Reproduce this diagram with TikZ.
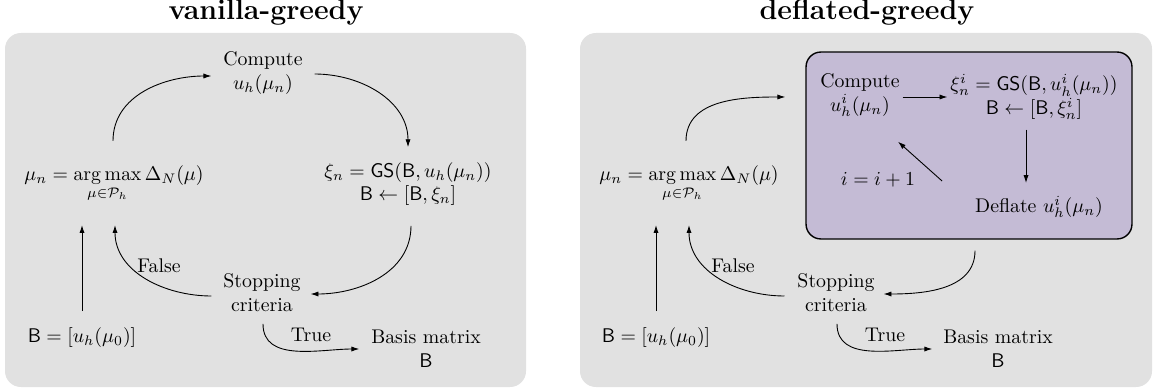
\documentclass[tikz,border=0pt]{standalone}
\usepackage{amsmath}
\usetikzlibrary{calc,arrows.meta}
\definecolor{panelgray}{RGB}{225,225,225}
\definecolor{boxpurple}{RGB}{196,187,213}
\begin{document}
\begin{tikzpicture}[x=0.505pt,y=-0.505pt,
  lbl/.style={align=center},
  arr/.style={-{Latex[length=4pt,width=2.6pt]}, line width=0.45pt},
  panel/.style={fill=panelgray, rounded corners=8pt},
  ttl/.style={font=\Large\bfseries, anchor=base, inner sep=0pt}]
\useasboundingbox (0,0) rectangle (1156,392);
\path[panel] (5,33) rectangle (526,387);
\path[panel] (580,33) rectangle (1152,387);

% ---------------- left: vanilla-greedy ----------------
\node[ttl] (t1) at (266,20) {vanilla-greedy};
\node[lbl] (cmp) at (263,73) {Compute\\$u_h(\mu_n)$};
\node[lbl] (am) at (114,184) {$\displaystyle \mu_n = \operatorname*{arg\,max}_{\mu\in\mathcal{P}_h} \Delta_N(\mu)$};
\node[lbl] (gs) at (408,184) {$\xi_n = \mathsf{GS}(\mathsf{B}, u_h(\mu_n))$\\$\mathsf{B} \leftarrow [\mathsf{B}, \xi_n]$};
\node[lbl] (stop) at (262,293) {Stopping\\criteria};
\node[lbl] (binit) at (82,338) {$\mathsf{B} = [u_h(\mu_0)]$};
\node[lbl] (basis) at (426,349) {Basis matrix\\$\mathsf{B}$};
\node[lbl] (false) at (159,266) {False};
\node[lbl] (true) at (311,335) {True};

\draw[arr] ($(am.north)+(-1,-18)$) to[out=90,in=180] ($(cmp.west)+(-5,3)$);
\draw[arr] ($(cmp.east)+(5,1)$) to[out=0,in=90] ($(gs.north)+(0,-8)$);
\draw[arr] ($(gs.south)+(3,13)$) to[out=-90,in=0] ($(stop.east)+(3,1)$);
\draw[arr] ($(stop.west)+(-5,3)$) to[out=180,in=-90] ($(am.south)+(1,16)$);
\draw[arr] ($(binit.north)+(0,-10)$) -- ($(binit.north |- am.south)+(0,16)$);
\draw[arr] ($(stop.south)+(1,5)$) to[out=-90,in=180] ($(basis.west)+(-5,0)$);

% ---------------- right: deflated-greedy ----------------
\node[ttl] (t2) at (867,20) {deflated-greedy};
\node[draw, fill=boxpurple, rounded corners=7.5pt, minimum width=164.6pt, minimum height=94.4pt, line width=0.7pt] (dbox) at (969,145.5) {};
\node[lbl] (cmpi) at (860,95) {Compute\\$u^i_h(\mu_n)$};
\node[lbl] (xi) at (1034,97) {$\xi^i_n = \mathsf{GS}(\mathsf{B}, u^i_h(\mu_n))$\\$\mathsf{B} \leftarrow [\mathsf{B}, \xi^i_n]$};
\node[lbl] (defl) at (1039,207) {Deflate $u^i_h(\mu_n)$};
\node[lbl] (inc) at (878,180) {$i = i+1$};
\node[lbl] (amr) at (689,184) {$\displaystyle \mu_n = \operatorname*{arg\,max}_{\mu\in\mathcal{P}_h} \Delta_N(\mu)$};
\node[lbl] (stopr) at (836,293) {Stopping\\criteria};
\node[lbl] (binitr) at (656,338) {$\mathsf{B} = [u_h(\mu_0)]$};
\node[lbl] (basisr) at (998,349) {Basis matrix\\$\mathsf{B}$};
\node[lbl] (falser) at (733,266) {False};
\node[lbl] (truer) at (885,335) {True};

\draw[arr] ($(amr.north)+(-3,-18)$) to[out=90,in=180] ($(dbox.west |- cmpi.west)+(-20,2)$);
\draw[arr] ($(cmpi.east)+(-4,2)$) -- ($(xi.west)+(4,0)$);
\draw[arr] ($(xi.south)+(-8,3)$) -- ($(xi.south |- defl.north)+(-8,-6)$);
\draw[arr] ($(inc.east)+(20,1)$) -- ($(cmpi.south)+(38,18)$);
\draw[arr] ($(dbox.south)+(6,11)$) to[out=-90,in=0] ($(stopr.east)+(2,1)$);
\draw[arr] ($(stopr.west)+(-6,3)$) to[out=180,in=-90] ($(amr.south)+(0,16)$);
\draw[arr] ($(binitr.north)+(0,-10)$) -- ($(binitr.north |- amr.south)+(0,16)$);
\draw[arr] ($(stopr.south)+(1,5)$) to[out=-90,in=180] ($(basisr.west)+(-4,0)$);
\end{tikzpicture}
\end{document}
